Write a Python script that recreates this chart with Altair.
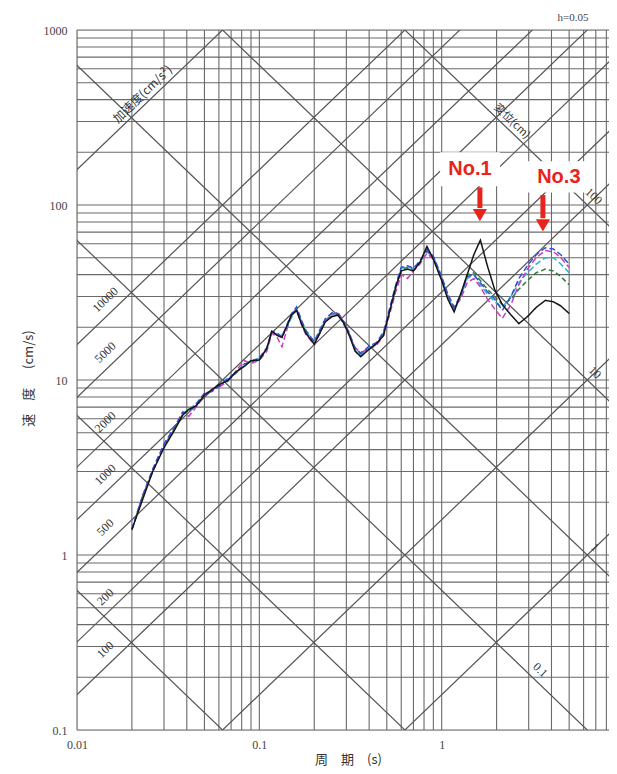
import math
import altair as alt
import pandas as pd

# ---------------- data ----------------
periods = [0.02, 0.023, 0.026, 0.03, 0.034, 0.038, 0.041, 0.045, 0.05, 0.055,
           0.06, 0.067, 0.075, 0.083, 0.09, 0.1, 0.11, 0.117, 0.125, 0.133,
           0.142, 0.15, 0.16, 0.17, 0.18, 0.19, 0.2, 0.215, 0.23, 0.25,
           0.27, 0.29, 0.31, 0.335, 0.36, 0.4, 0.44, 0.48, 0.52, 0.56,
           0.6, 0.65, 0.7, 0.76, 0.83, 0.9, 1.0, 1.08, 1.17, 1.27,
           1.38, 1.5, 1.63, 1.78, 1.95, 2.15, 2.4, 2.65, 2.95, 3.3,
           3.7, 4.1, 4.5, 5.0]

v_black = [1.4, 2.1, 3.0, 4.1, 5.1, 6.3, 6.8, 7.1, 8.2, 8.8,
           9.4, 9.9, 11.2, 12.0, 12.9, 13.0, 15.2, 19.0, 18.0, 17.5,
           20.5, 23.5, 25.0, 21.0, 18.5, 17.2, 16.0, 18.6, 21.5, 23.0,
           23.5, 21.2, 18.2, 14.6, 13.6, 15.0, 16.2, 18.0, 25.0, 34.0,
           42.0, 43.0, 42.0, 47.0, 58.0, 49.0, 37.0, 29.0, 24.5, 31.0,
           40.0, 52.0, 63.0, 45.0, 33.0, 27.0, 23.5, 21.0, 23.0, 26.0,
           28.5, 28.0, 26.5, 24.0]

v_blue = [1.4, 2.2, 3.1, 4.3, 5.3, 6.5, 6.6, 7.3, 8.4, 8.6,
          9.2, 10.2, 11.1, 12.4, 12.6, 13.4, 15.3, 19.0, 18.6, 17.6,
          20.8, 23.8, 26.2, 22.0, 19.2, 17.8, 16.6, 19.4, 22.4, 24.2,
          24.0, 21.4, 18.8, 15.2, 14.2, 15.6, 16.4, 18.8, 26.0, 35.0,
          44.0, 45.0, 43.5, 48.0, 55.0, 51.0, 39.0, 31.0, 26.0, 30.5,
          39.0, 40.0, 36.0, 32.0, 29.0, 25.0, 30.0, 38.0, 45.0, 52.0,
          57.0, 56.0, 52.0, 46.0]

v_magenta = [1.4, 2.2, 3.0, 4.3, 5.3, 6.6, 6.2, 7.0, 8.2, 8.9,
             9.1, 9.8, 11.4, 12.9, 12.4, 13.0, 14.6, 18.5, 17.6, 15.5,
             19.6, 24.0, 25.0, 20.8, 18.2, 17.0, 15.8, 18.6, 21.6, 23.8,
             24.4, 21.6, 18.0, 15.3, 14.4, 15.0, 15.8, 18.0, 24.0, 32.0,
             40.0, 38.0, 42.0, 46.0, 53.0, 49.0, 38.0, 30.5, 26.0, 29.0,
             36.0, 38.0, 34.0, 29.0, 25.5, 22.5, 27.0, 35.0, 43.0, 50.0,
             55.0, 54.0, 50.0, 44.0]

v_cyan = [1.4, 2.2, 3.0, 4.2, 5.2, 6.4, 6.8, 7.3, 8.3, 8.7,
          9.4, 10.1, 11.0, 12.2, 12.9, 13.3, 15.1, 18.7, 18.3, 18.0,
          20.0, 22.8, 25.2, 21.6, 19.0, 17.6, 16.5, 19.2, 22.0, 23.6,
          23.6, 20.8, 18.4, 14.8, 13.8, 15.2, 16.1, 18.6, 25.5, 34.5,
          43.5, 44.5, 43.0, 47.5, 54.0, 50.5, 38.5, 30.0, 25.0, 30.0,
          38.0, 40.0, 35.0, 31.0, 28.0, 26.0, 30.0, 36.0, 41.0, 46.0,
          50.0, 50.0, 46.0, 41.0]

v_green = [1.4, 2.2, 3.0, 4.2, 5.2, 6.4, 6.7, 7.2, 8.3, 8.7,
           9.3, 10.0, 11.0, 12.2, 12.8, 13.2, 15.0, 18.8, 18.2, 17.8,
           20.2, 23.0, 25.5, 21.5, 18.8, 17.5, 16.4, 19.0, 21.8, 23.5,
           23.8, 21.0, 18.5, 15.0, 14.0, 15.2, 16.0, 18.5, 25.0, 34.0,
           43.0, 44.0, 42.5, 47.0, 56.0, 50.0, 38.0, 30.0, 25.5, 30.0,
           40.0, 41.0, 37.0, 33.0, 30.0, 27.0, 29.0, 33.0, 37.0, 41.0,
           43.0, 42.0, 39.0, 35.0]

series_names = ["green", "cyan", "magenta", "blue", "black"]
series_colors = ["#2e7d3c", "#2fb0d0", "#cc3fc4", "#3050d8", "#151515"]
series_dash = [[5, 3], [6, 3], [6, 3], [6, 3], [1, 0]]

grid_periods = [0.01, 0.02, 0.03, 0.04, 0.05, 0.06, 0.07, 0.08, 0.09,
                0.1, 0.2, 0.3, 0.4, 0.5, 0.6, 0.7, 0.8, 0.9,
                1, 2, 3, 4, 5, 6, 7, 8, 9]
grid_velocities = [0.1, 0.2, 0.3, 0.4, 0.5, 0.6, 0.7, 0.8, 0.9,
                   1, 2, 3, 4, 5, 6, 7, 8, 9,
                   10, 20, 30, 40, 50, 60, 70, 80, 90,
                   100, 200, 300, 400, 500, 600, 700, 800, 900, 1000]

accel_levels = [1, 10, 100, 200, 500, 1000, 2000, 5000, 10000, 100000]   # cm/s^2
disp_levels = [0.001, 0.01, 0.1, 1, 10, 100]                             # cm

accel_label_values = [100, 200, 500, 1000, 2000, 5000, 10000]
disp_label_values = [100, 10, 1, 0.1]
disp_label_text = ["100", "10", "1", "0.1"]
disp_label_periods = [6.2, 6.3, 6.3, 3.16]

x_tick_values = [0.01, 0.1, 1]
y_tick_values = [0.1, 1, 10, 100, 1000]

TWO_PI = 2 * math.pi
X_DOMAIN = [0.01, 8.27]
Y_DOMAIN = [0.1, 1000]

xs = alt.Scale(type="log", domain=X_DOMAIN, nice=False)
ys = alt.Scale(type="log", domain=Y_DOMAIN, nice=False)

GRID = "#6a6a6a"
LABEL_FONT = "Liberation Serif"
JP_FONT = "Noto Sans CJK JP"

xaxis = alt.Axis(values=x_tick_values, format=".2~f",
                 title="周\u3000期\u3000(s)",
                 labelFont=LABEL_FONT, labelFontSize=12, labelColor="#444",
                 labelPadding=9, labelFlush=False, ticks=False, domain=False,
                 grid=False, titleFont=JP_FONT, titleFontSize=13,
                 titleColor="#333", titleFontWeight="normal",
                 titleX=271, titleY=29, titleBaseline="middle")
yaxis = alt.Axis(values=y_tick_values, format="~g",
                 title="速\u3000度\u3000\u00a0\u00a0(cm/s)",
                 labelFont=LABEL_FONT, labelFontSize=12, labelColor="#444",
                 labelPadding=10, labelFlush=False, ticks=False, domain=False,
                 grid=False, titleFont=JP_FONT, titleFontSize=13,
                 titleColor="#333", titleFontWeight="normal",
                 titleX=-49, titleY=348, titleBaseline="middle",
                 titleAlign="center", titleAngle=270)

# ---------------- tables ----------------
rows = []
for name, vals in zip(series_names,
                      [v_green, v_cyan, v_magenta, v_blue, v_black]):
    for t, v in zip(periods, vals):
        rows.append({"T": t, "V": v, "s": name})
curves = pd.DataFrame(rows)

diag_rows = []
for a in accel_levels:
    for t in (0.001, 100.0):
        diag_rows.append({"T": t, "V": a * t / TWO_PI, "id": f"a{a}"})
for d in disp_levels:
    for t in (0.001, 100.0):
        diag_rows.append({"T": t, "V": TWO_PI * d / t, "id": f"d{d}"})
diag = pd.DataFrame(diag_rows)

acc_lab = pd.DataFrame({
    "T": [0.016] * len(accel_label_values),
    "V": [a * 0.016 / TWO_PI for a in accel_label_values],
    "t": [str(a) for a in accel_label_values],
})
acc_title = pd.DataFrame({"T": [0.0248], "V": [100000 * 0.0248 / TWO_PI],
                          "t": ["加速度(cm/s²)"]})
disp_lab = pd.DataFrame({
    "T": disp_label_periods,
    "V": [TWO_PI * d / t for d, t in zip(disp_label_values, disp_label_periods)],
    "t": disp_label_text,
})
disp_title = pd.DataFrame({"T": [2.26], "V": [TWO_PI * 100 / 2.26], "t": ["変位(cm)"]})

ann = pd.DataFrame({"T": [1.43, 4.39], "V": [160, 144], "t": ["No.1", "No.3"],
                    "x1": [0.98, 2.95], "x2": [2.09, 6.3],
                    "y1": [128, 118], "y2": [200, 178]})
arrows = pd.DataFrame({"T": [1.62, 3.59], "top": [126, 114], "bot": [96, 84],
                       "tip": [87.5, 76.5]})


def X(field="T:Q"):
    return alt.X(field, scale=xs, axis=xaxis)


def Y(field="V:Q"):
    return alt.Y(field, scale=ys, axis=yaxis)


vgrid = alt.Chart(pd.DataFrame({"T": grid_periods})).mark_rule(
    color=GRID, strokeWidth=1.1).encode(x=X())
hgrid = alt.Chart(pd.DataFrame({"V": grid_velocities})).mark_rule(
    color=GRID, strokeWidth=1.1).encode(y=Y())

diag_layer = alt.Chart(diag).mark_line(color="#555555", strokeWidth=1.2,
                                       clip=True).encode(
    x=X(), y=Y(), detail="id:N")

acc_text = alt.Chart(acc_lab).mark_text(
    angle=316, dy=-13, font=LABEL_FONT, fontSize=12, color="#333").encode(
    x=X(), y=Y(), text="t:N")
acc_title_text = alt.Chart(acc_title).mark_text(
    angle=316, dy=-9, font=JP_FONT, fontSize=12, color="#333").encode(
    x=X(), y=Y(), text="t:N")
disp_text = alt.Chart(disp_lab).mark_text(
    angle=44, dy=-11, font=LABEL_FONT, fontSize=12, color="#333").encode(
    x=X(), y=Y(), text="t:N")
disp_title_text = alt.Chart(disp_title).mark_text(
    angle=44, dy=-8, font=JP_FONT, fontSize=11, color="#333").encode(
    x=X(), y=Y(), text="t:N")

curve_layer = alt.Chart(curves).mark_line(strokeWidth=1.5, clip=True).encode(
    x=X(), y=Y(),
    color=alt.Color("s:N", scale=alt.Scale(domain=series_names, range=series_colors),
                    legend=None),
    strokeDash=alt.StrokeDash("s:N", scale=alt.Scale(domain=series_names,
                                                     range=series_dash),
                              legend=None),
    order=alt.Order("T:Q"),
)

boxes = alt.Chart(ann).mark_rect(color="white").encode(
    x=X("x1:Q"), x2="x2:Q", y=Y("y1:Q"), y2="y2:Q")

ann_text = alt.Chart(ann).mark_text(
    font="Liberation Sans", fontSize=20, fontWeight="bold", color="#e8231b").encode(
    x=X(), y=Y(), text="t:N")

arrow_shaft = alt.Chart(arrows).mark_rule(color="#e8231b", strokeWidth=5).encode(
    x=X(), y=Y("top:Q"), y2="bot:Q")
arrow_head = alt.Chart(arrows).mark_point(
    shape="triangle-down", filled=True, color="#e8231b", size=200, opacity=1).encode(
    x=X(), y=Y("tip:Q"))

damping = alt.Chart(pd.DataFrame({"t": ["h=0.05"]})).mark_text(
    font=LABEL_FONT, fontSize=11, color="#444").encode(
    x=alt.value(496), y=alt.value(-12), text="t:N")

chart = alt.layer(
    hgrid, vgrid, diag_layer, acc_text, acc_title_text, disp_text, disp_title_text,
    boxes, curve_layer, ann_text, arrow_shaft, arrow_head, damping
).properties(
    width=532, height=700,
    padding={"left": 69, "top": 22, "right": 0, "bottom": 36},
    autosize=alt.AutoSizeParams(type="none"),
).configure_view(stroke=None).configure(background="white")

chart.save("out.html", embed_options={"renderer": "svg", "actions": False})
